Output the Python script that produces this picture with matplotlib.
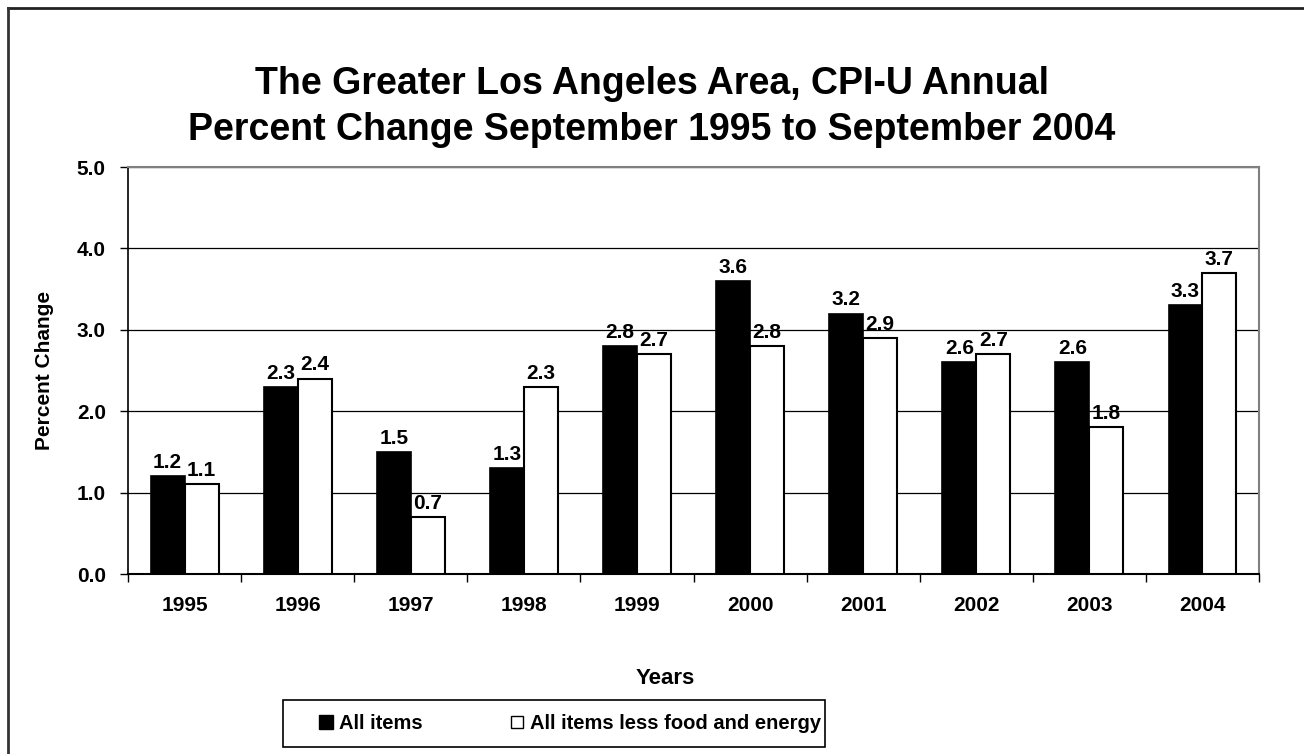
import matplotlib.pyplot as plt
from matplotlib.lines import Line2D
from matplotlib.patches import Rectangle
import numpy as np

plt.rcParams['font.family'] = ['Liberation Sans', 'DejaVu Sans']
plt.rcParams['font.weight'] = 'bold'

# data
years = ['1995', '1996', '1997', '1998', '1999', '2000', '2001', '2002', '2003', '2004']
all_items = [1.2, 2.3, 1.5, 1.3, 2.8, 3.6, 3.2, 2.6, 2.6, 3.3]
core_items = [1.1, 2.4, 0.7, 2.3, 2.7, 2.8, 2.9, 2.7, 1.8, 3.7]

fig = plt.figure(figsize=(13.04, 7.54), dpi=100)
ax = fig.add_axes([0.0982, 0.2387, 0.8673, 0.5398])

x = np.arange(len(years))
w = 0.30
b1 = ax.bar(x - w/2, all_items, w, color='black', edgecolor='black', linewidth=1.2,
            label='All items', zorder=3)
b2 = ax.bar(x + w/2, core_items, w, color='white', edgecolor='black', linewidth=1.5,
            label='All items less food and energy', zorder=3)

for bars, vals in ((b1, all_items), (b2, core_items)):
    for r, v in zip(bars, vals):
        ax.annotate(f'{v:.1f}', (r.get_x() + r.get_width()/2, v), xytext=(0, 3),
                    textcoords='offset points', ha='center', va='bottom',
                    fontsize=15, fontweight='bold', zorder=4)

ax.set_xlim(-0.5, len(years) - 0.5)
ax.set_ylim(0, 5)
ax.set_yticks(np.arange(0, 5.01, 1.0))
ax.set_yticklabels([f'{t:.1f}' for t in np.arange(0, 5.01, 1.0)], fontsize=15, fontweight='bold')
ax.yaxis.grid(True, color='black', linewidth=0.9, zorder=0)

# major ticks at category boundaries, labels at centers
ax.set_xticks(np.arange(-0.5, len(years), 1.0))
ax.set_xticklabels([])
ax.set_xticks(x, minor=True)
ax.set_xticklabels(years, minor=True, fontsize=15, fontweight='bold')
ax.tick_params(axis='x', which='minor', length=0, pad=16)
ax.tick_params(axis='x', which='major', length=6, width=1, direction='out')
ax.tick_params(axis='y', length=6, width=1, direction='out', pad=10)

ax.spines['left'].set_color('black')
ax.spines['bottom'].set_color('black')
ax.spines['bottom'].set_linewidth(1.5)
ax.spines['left'].set_linewidth(1.2)
ax.spines['top'].set_color('#808080')
ax.spines['right'].set_color('#808080')
ax.spines['top'].set_linewidth(1.5)
ax.spines['right'].set_linewidth(1.5)

ax.set_ylabel('Percent Change', fontsize=15, fontweight='bold', labelpad=16)
fig.text(0.5105, 0.1, 'Years', ha='center', va='center', fontsize=16, fontweight='bold')

fig.text(0.5, 0.858, 'The Greater Los Angeles Area, CPI-U Annual\nPercent Change September 1995 to September 2004',
         ha='center', va='center', fontsize=27, fontweight='bold', linespacing=1.35)

handles = [
    Line2D([], [], marker='s', linestyle='none', markersize=10.5, markerfacecolor='black',
           markeredgecolor='black'),
    Line2D([], [], marker='s', linestyle='none', markersize=9, markerfacecolor='white',
           markeredgecolor='black', markeredgewidth=1),
]
leg = fig.legend(handles, ['All items', 'All items less food and energy'], ncol=2,
                 loc='center', bbox_to_anchor=(0.4367, 0.0405), frameon=False,
                 prop={'size': 14.5, 'weight': 'bold'}, handlelength=0.8, handletextpad=0.25,
                 columnspacing=4.3, borderpad=0.3)
# legend box, wider than its entries as in the reference
fig.add_artist(Rectangle((283/1304, 1 - 747/754), (825 - 283)/1304, 47/754,
                         transform=fig.transFigure, facecolor='none', edgecolor='black',
                         linewidth=1.2))

# outer frame (top and left edges visible in the reference)
fig.add_artist(Line2D([8/1304, 1.0], [1 - 8/754, 1 - 8/754], color='#222222', linewidth=2,
                      transform=fig.transFigure))
fig.add_artist(Line2D([8/1304, 8/1304], [0.0, 1 - 8/754], color='#333333', linewidth=2,
                      transform=fig.transFigure))

fig.savefig('out.png', dpi=100, facecolor='white')
